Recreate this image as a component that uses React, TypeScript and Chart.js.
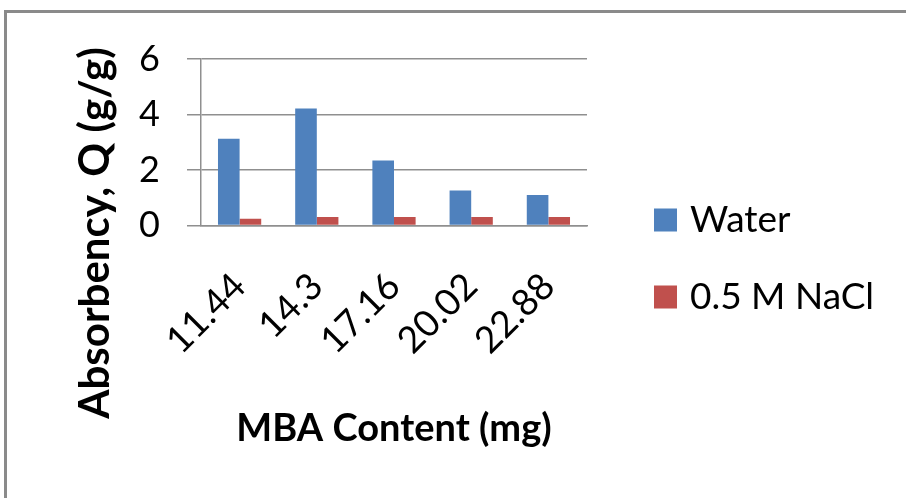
import { useEffect, useRef } from 'react';
import { Chart, registerables } from 'chart.js';

Chart.register(...registerables);

// MBA content of each sample (mg)
const categories = ['11.44', '14.3', '17.16', '20.02', '22.88'];
// Absorbency Q (g/g) in each medium
const waterValues = [3.13, 4.22, 2.34, 1.26, 1.1];
const naclValues = [0.24, 0.31, 0.31, 0.31, 0.31];
const seriesNames = ['Water', '0.5 M NaCl'];
const seriesColors = ['#4F81BD', '#C0504D'];
const yTicks = [0, 2, 4, 6];
const xTitle = 'MBA Content (mg)';
const yTitle = 'Absorbency, Q (g/g)';

const FONT = 'Lato, "Open Sans", sans-serif';
const GRID = '#8f8f8f';

// Grey outline around the chart object
const framePlugin = {
  id: 'frame',
  beforeDraw(chart: any) {
    const { ctx } = chart;
    ctx.save();
    ctx.fillStyle = '#ffffff';
    ctx.fillRect(0, 0, chart.width, chart.height);
    ctx.strokeStyle = '#8a8a8a';
    ctx.lineWidth = 3;
    ctx.beginPath();
    ctx.moveTo(5.5, chart.height + 5);
    ctx.lineTo(5.5, 11.5);
    ctx.lineTo(chart.width + 5, 11.5);
    ctx.stroke();
    ctx.restore();
  },
};

// Vertical axis title, centred on the whole chart height
const yTitlePlugin = {
  id: 'yTitle',
  afterDraw(chart: any) {
    const { ctx } = chart;
    ctx.save();
    ctx.translate(95, 233);
    ctx.rotate(-Math.PI / 2);
    ctx.font = `bold 42px ${FONT}`;
    ctx.fillStyle = '#000';
    ctx.textAlign = 'center';
    ctx.textBaseline = 'middle';
    ctx.fillText(yTitle, 0, 0);
    ctx.restore();
  },
};

// Legend to the right of the plot area, one entry per row
const legendPlugin = {
  id: 'sideLegend',
  afterDraw(chart: any) {
    const { ctx } = chart;
    const boxX = 654;
    const box = 23;
    const firstRow = 220;
    const rowGap = 77;
    ctx.save();
    ctx.font = `37px ${FONT}`;
    ctx.textAlign = 'left';
    ctx.textBaseline = 'middle';
    chart.data.datasets.forEach((ds: any, i: number) => {
      const cy = firstRow + i * rowGap;
      ctx.fillStyle = ds.backgroundColor;
      ctx.fillRect(boxX, cy - box / 2, box, box);
      ctx.fillStyle = '#000';
      ctx.fillText(ds.label, boxX + box + 13, cy);
    });
    ctx.restore();
  },
};

export default function App() {
  const canvasRef = useRef<HTMLCanvasElement>(null);

  useEffect(() => {
    const canvas = canvasRef.current;
    if (!canvas) return;
    const chart = new Chart(canvas, {
      type: 'bar',
      data: {
        labels: categories,
        datasets: [
          {
            label: seriesNames[0],
            data: waterValues,
            backgroundColor: seriesColors[0],
            categoryPercentage: 0.56,
            barPercentage: 1,
          },
          {
            label: seriesNames[1],
            data: naclValues,
            backgroundColor: seriesColors[1],
            categoryPercentage: 0.56,
            barPercentage: 1,
          },
        ],
      },
      options: {
        animation: false,
        responsive: true,
        maintainAspectRatio: false,
        layout: { padding: { left: 0, right: 319, top: 59, bottom: 46 } },
        plugins: {
          legend: { display: false },
          tooltip: { enabled: false },
        },
        scales: {
          x: {
            grid: { display: false, drawTicks: false },
            border: { display: true, color: GRID, width: 1.5 },
            ticks: {
              color: '#000',
              font: { family: FONT, size: 37 },
              minRotation: 45,
              maxRotation: 45,
              padding: 39,
            },
            title: {
              display: true,
              text: xTitle,
              color: '#000',
              font: { family: FONT, size: 38, weight: 'bold' },
              padding: 0,
            },
            afterFit: (scale: any) => {
              scale.height = 226.5;
            },
          },
          y: {
            min: 0,
            max: 6,
            afterBuildTicks: (scale: any) => {
              scale.ticks = yTicks.map((v) => ({ value: v }));
            },
            ticks: {
              color: '#000',
              font: { family: FONT, size: 36 },
              padding: 27,
            },
            grid: { color: GRID, lineWidth: 1.5, tickLength: 14, drawTicks: true },
            border: { display: true, color: GRID, width: 1.5 },
            afterFit: (scale: any) => {
              scale.width = 201;
            },
          },
        },
      },
      plugins: [framePlugin, yTitlePlugin, legendPlugin],
    });
    return () => chart.destroy();
  }, []);

  return (
    <div style={{ position: 'fixed', left: 0, top: 0, width: 906, height: 498, background: '#fff' }}>
      <canvas ref={canvasRef} />
    </div>
  );
}
